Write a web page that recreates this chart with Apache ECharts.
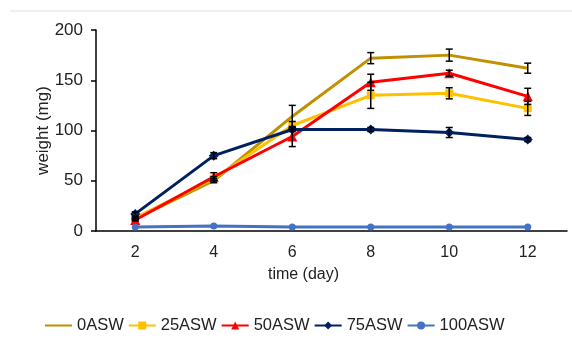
<!DOCTYPE html>
<html><head><meta charset="utf-8">
<script src="https://cdn.jsdelivr.net/npm/echarts@6/dist/echarts.min.js"></script>
<style>html,body{margin:0;padding:0;background:#fff}#c{width:572px;height:342px}</style>
</head><body><div id="c"></div>
<script>
var categories = ['2','4','6','8','10','12'];
var names = ['0ASW','25ASW','50ASW','75ASW','100ASW'];
var v0 = [12, 50, 114, 172, 175, 162];
var v25 = [13, 52, 105, 135, 137, 122];
var v50 = [11, 54, 94, 148, 157, 134];
var v75 = [17, 75, 101, 101, 98, 91];
var v100 = [4, 5, 4, 4, 4, 4];
var e0 = [1, 2, 11, 5.5, 6, 5];
var e25 = [1, 2, 4, 13, 5.5, 7];
var e50 = [1, 4, 10, 8, 3, 8];
var e75 = [2, 3, 2, 2, 5, 2];
var e100 = [0.5, 0.5, 0.5, 0.5, 0.5, 0.5];

var values = [v0, v25, v50, v75, v100];
var errs = [e0, e25, e50, e75, e100];
var colors = ['#BF9000', '#FFC000', '#FF0000', '#002060', '#4472C4'];
var symbols = ['none', 'rect', 'triangle', 'diamond', 'circle'];
var symSizes = [0, 8, 10, 10, 7];

var F = 'Liberation Sans, Arial, sans-serif';
var series = [];
names.forEach(function(n, i){
  series.push({
    name: n, type: 'line', data: values[i],
    symbol: symbols[i], symbolSize: symSizes[i], showSymbol: symbols[i] !== 'none',
    lineStyle: {color: colors[i], width: 3}, itemStyle: {color: colors[i]},
    z: 2 + i
  });
});
var errData = [];
names.forEach(function(n, i){
  values[i].forEach(function(v, j){
    if (errs[i][j] >= 1) errData.push([j, v - errs[i][j], v + errs[i][j]]);
  });
});
series.push({
  name: 'err', type: 'custom', data: errData, z: 10,
  renderItem: function(params, api){
    var lo = api.coord([api.value(0), api.value(1)]);
    var hi = api.coord([api.value(0), api.value(2)]);
    var w = 3.5;
    var st = {stroke: '#000', lineWidth: 1.5};
    return {type: 'group', children: [
      {type: 'line', shape: {x1: lo[0], y1: lo[1], x2: hi[0], y2: hi[1]}, style: st},
      {type: 'line', shape: {x1: lo[0]-w, y1: lo[1], x2: lo[0]+w, y2: lo[1]}, style: st},
      {type: 'line', shape: {x1: hi[0]-w, y1: hi[1], x2: hi[0]+w, y2: hi[1]}, style: st}
    ]};
  }
});

var legendData = names.map(function(n, i){
  return i === 0 ? {name: n, itemStyle: {opacity: 0}} : {name: n};
});

var chart = echarts.init(document.getElementById('c'));
chart.setOption({
  animation: false,
  backgroundColor: '#fff',
  graphic: [{type: 'line', shape: {x1: 10, y1: 11, x2: 572, y2: 11}, style: {stroke: '#e0e0e0', lineWidth: 1}}],
  grid: {left: 96, right: 5, top: 30, bottom: 111},
  legend: {
    data: legendData, top: 312, left: 39, itemWidth: 27, itemHeight: 10, itemGap: 4,
    textStyle: {fontFamily: F, fontSize: 16.5, color: '#222'}
  },
  xAxis: {
    type: 'category', data: categories, boundaryGap: true,
    name: 'time (day)', nameLocation: 'middle', nameGap: 36,
    nameTextStyle: {fontFamily: F, fontSize: 16, color: '#222', padding: [0, 56, 0, 0]},
    axisLine: {lineStyle: {color: '#000', width: 1.5}},
    axisTick: {lineStyle: {color: '#000', width: 1.5}, length: 5},
    axisLabel: {fontFamily: F, fontSize: 16, color: '#222', margin: 14}
  },
  yAxis: {
    type: 'value', min: 0, max: 200, interval: 50,
    name: 'weight (mg)', nameLocation: 'middle', nameGap: 44, nameRotate: 90,
    nameMoveOverlap: false,
    nameTextStyle: {fontFamily: F, fontSize: 17, color: '#222'},
    axisLine: {show: true, lineStyle: {color: '#000', width: 1.5}},
    axisTick: {show: true, lineStyle: {color: '#000', width: 1.5}, length: 5},
    splitLine: {show: false},
    axisLabel: {fontFamily: F, fontSize: 17, color: '#222', margin: 13}
  },
  series: series
});
</script></body></html>
